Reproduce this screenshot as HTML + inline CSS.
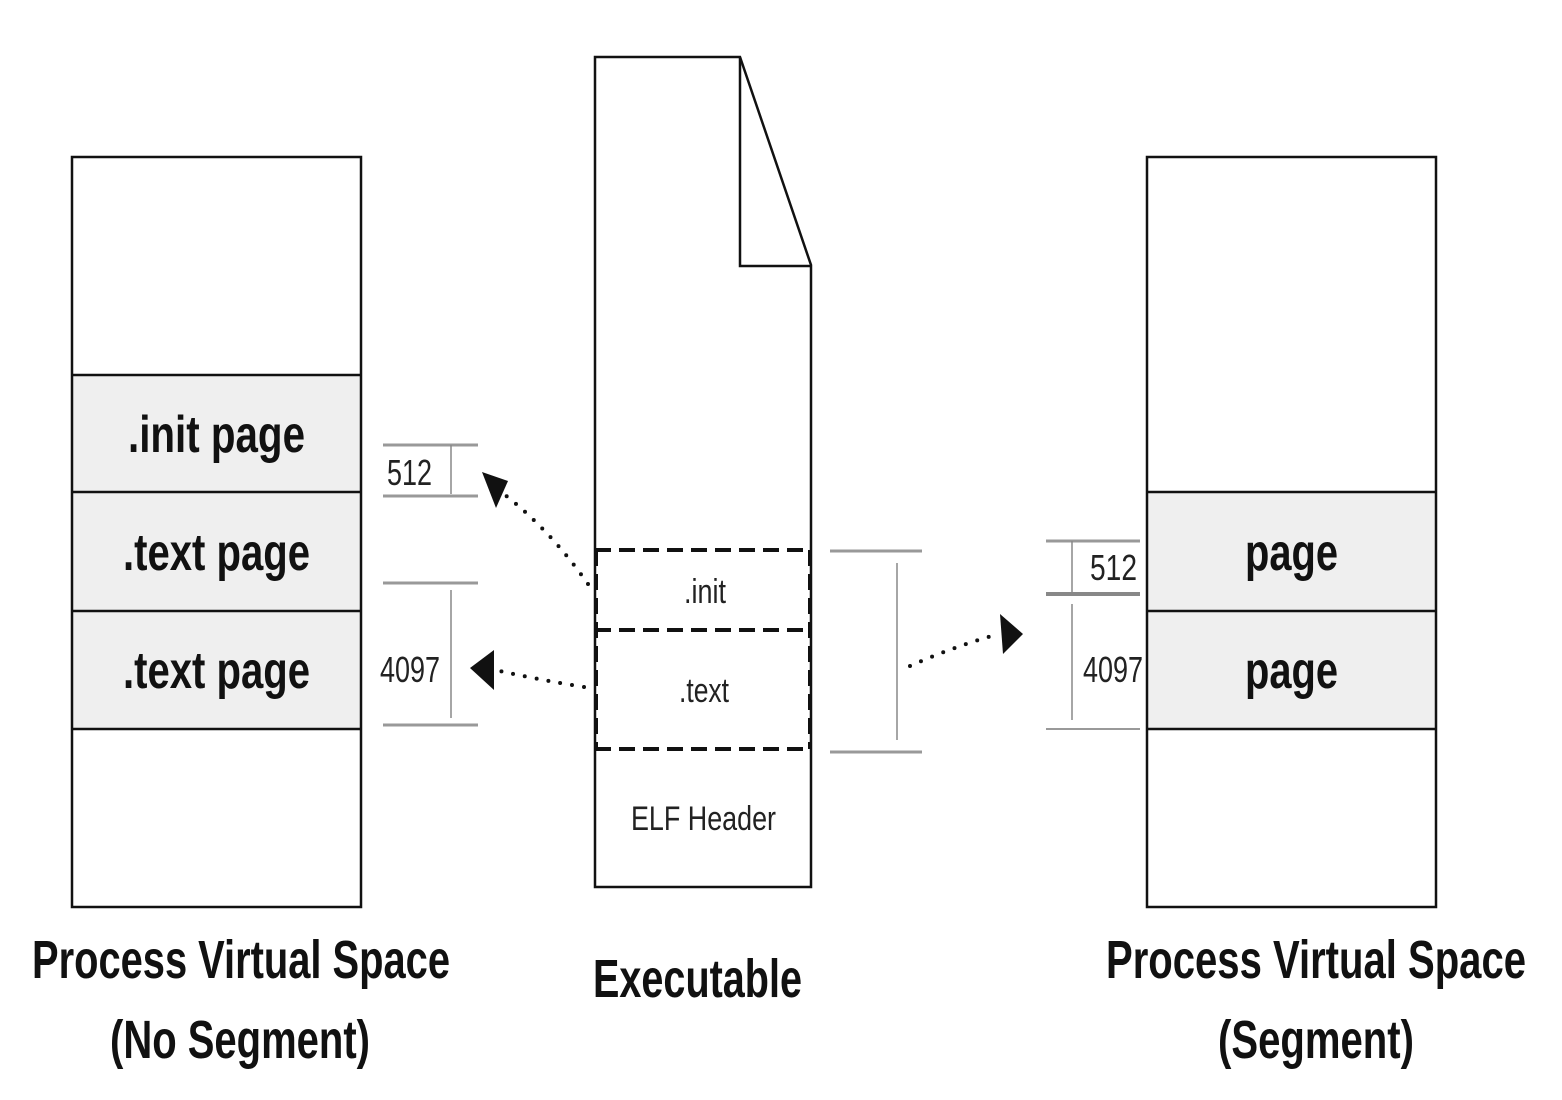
<!DOCTYPE html>
<html><head><meta charset="utf-8"><style>html,body{margin:0;padding:0;background:#fff}svg{display:block}</style></head>
<body>
<svg width="1562" height="1100" viewBox="0 0 1562 1100" xmlns="http://www.w3.org/2000/svg" font-family="Liberation Sans, Arial, sans-serif">
<!-- left box -->
<rect x="72" y="375" width="289" height="354" fill="#efefef"/>
<rect x="72" y="157" width="289" height="750" fill="none" stroke="#111" stroke-width="2.5"/>
<g stroke="#111" stroke-width="2.5"><line x1="72" y1="375" x2="361" y2="375"/><line x1="72" y1="492" x2="361" y2="492"/><line x1="72" y1="611" x2="361" y2="611"/><line x1="72" y1="729" x2="361" y2="729"/></g>
<g font-weight="bold" font-size="52" fill="#111">
<text x="128" y="452" textLength="177" lengthAdjust="spacingAndGlyphs">.init page</text>
<text x="123" y="570" textLength="187" lengthAdjust="spacingAndGlyphs">.text page</text>
<text x="123" y="688" textLength="187" lengthAdjust="spacingAndGlyphs">.text page</text>
</g>
<!-- left dims -->
<g stroke="#999" stroke-width="3"><line x1="383" y1="445" x2="478" y2="445"/><line x1="383" y1="496" x2="478" y2="496"/><line x1="383" y1="583" x2="478" y2="583"/><line x1="383" y1="725" x2="478" y2="725"/></g>
<g stroke="#888" stroke-width="1.5"><line x1="451" y1="445" x2="451" y2="494"/><line x1="451" y1="590" x2="451" y2="718"/></g>
<g font-size="36" fill="#222">
<text x="387" y="485" textLength="45" lengthAdjust="spacingAndGlyphs">512</text>
<text x="380" y="682" textLength="60" lengthAdjust="spacingAndGlyphs">4097</text>
</g>
<!-- arrows -->
<g stroke="#111" stroke-width="4" stroke-linecap="round" stroke-dasharray="0 12" fill="none">
<path d="M588 584 Q550 530 505 495"/>
<path d="M584 687 Q540 680 500 671"/>
<path d="M910 666 Q950 648 995 635"/>
</g>
<polygon points="482,472 508,481 496,508" fill="#111"/>
<polygon points="470,668 494,650 494,690" fill="#111"/>
<polygon points="1023,634 1000,614 1003,654" fill="#111"/>
<!-- executable -->
<path d="M595 57 L740 57 L811 265 L811 887 L595 887 Z" fill="#fff" stroke="#111" stroke-width="2.5"/>
<path d="M740 57 L740 266 L811 266" fill="none" stroke="#111" stroke-width="2.5"/>
<g stroke="#111" stroke-width="4" stroke-dasharray="16 8"><line x1="595" y1="550" x2="811" y2="550"/><line x1="595" y1="630" x2="811" y2="630"/><line x1="595" y1="749" x2="811" y2="749"/><line x1="596" y1="550" x2="596" y2="749"/><line x1="810" y1="550" x2="810" y2="749"/></g>
<g font-size="34" fill="#222">
<text x="684" y="603" textLength="42" lengthAdjust="spacingAndGlyphs">.init</text>
<text x="679" y="702" textLength="50" lengthAdjust="spacingAndGlyphs">.text</text>
<text x="631" y="830" textLength="145" lengthAdjust="spacingAndGlyphs">ELF Header</text>
</g>
<!-- middle dims -->
<g stroke="#999" stroke-width="3"><line x1="830" y1="551" x2="922" y2="551"/><line x1="830" y1="752" x2="922" y2="752"/></g>
<line x1="897" y1="563" x2="897" y2="740" stroke="#888" stroke-width="1.5"/>
<!-- right box -->
<rect x="1147" y="492" width="289" height="237" fill="#efefef"/>
<rect x="1147" y="157" width="289" height="750" fill="none" stroke="#111" stroke-width="2.5"/>
<g stroke="#111" stroke-width="2.5"><line x1="1147" y1="492" x2="1436" y2="492"/><line x1="1147" y1="611" x2="1436" y2="611"/><line x1="1147" y1="729" x2="1436" y2="729"/></g>
<g font-weight="bold" font-size="52" fill="#111">
<text x="1245" y="570" textLength="93" lengthAdjust="spacingAndGlyphs">page</text>
<text x="1245" y="688" textLength="93" lengthAdjust="spacingAndGlyphs">page</text>
</g>
<g stroke="#999" stroke-width="3"><line x1="1046" y1="541" x2="1140" y2="541"/><line x1="1046" y1="594" x2="1140" y2="594" stroke="#888" stroke-width="4"/><line x1="1046" y1="729" x2="1140" y2="729" stroke-width="2"/></g>
<g stroke="#888" stroke-width="1.5"><line x1="1072" y1="541" x2="1072" y2="592"/><line x1="1072" y1="604" x2="1072" y2="720"/></g>
<g font-size="36" fill="#222">
<text x="1090" y="580" textLength="47" lengthAdjust="spacingAndGlyphs">512</text>
<text x="1083" y="682" textLength="60" lengthAdjust="spacingAndGlyphs">4097</text>
</g>
<!-- captions -->
<g font-weight="bold" font-size="54" fill="#111">
<text x="32" y="978" textLength="418" lengthAdjust="spacingAndGlyphs">Process Virtual Space</text>
<text x="110" y="1058" textLength="260" lengthAdjust="spacingAndGlyphs">(No Segment)</text>
<text x="593" y="997" textLength="209" lengthAdjust="spacingAndGlyphs">Executable</text>
<text x="1106" y="978" textLength="420" lengthAdjust="spacingAndGlyphs">Process Virtual Space</text>
<text x="1218" y="1058" textLength="196" lengthAdjust="spacingAndGlyphs">(Segment)</text>
</g>
</svg>
</body></html>
